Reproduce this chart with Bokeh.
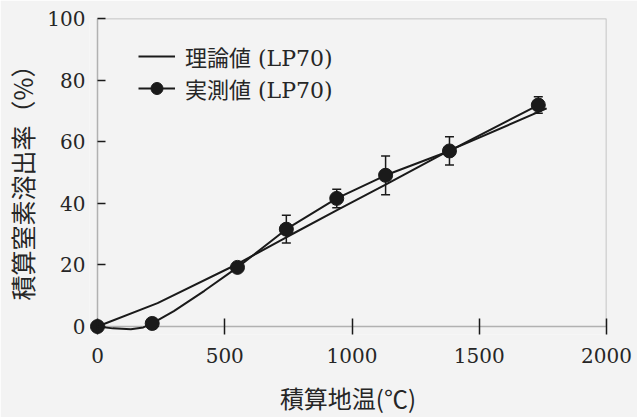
from bokeh.plotting import figure
from bokeh.models import (ColumnDataSource, Whisker, TeeHead, Legend, LegendItem,
                          FixedTicker, Range1d, BoxAnnotation)
from bokeh.embed import file_html
from bokeh.resources import INLINE

# ---------------- data ----------------
x_ticks = [0, 500, 1000, 1500, 2000]
y_ticks = [0, 20, 40, 60, 80, 100]
x_min, x_max = 0, 2000
y_min, y_max = 0, 100

# measured points (積算地温, 積算窒素溶出率) and error half-widths
meas_temp = [0, 215, 550, 742, 940, 1132, 1383, 1732]
meas_n = [0.0, 1.0, 19.2, 31.6, 41.6, 49.1, 57.0, 71.9]
meas_err = [0.0, 0.0, 0.0, 4.5, 3.0, 6.3, 4.6, 2.7]

meas_curve_temp = [0, 60, 131, 180, 215, 300, 420, 550, 742, 940, 1132, 1383, 1732]
meas_curve_n = [0.0, -0.6, -0.9, -0.3, 1.0, 5.0, 11.6, 19.2, 31.6, 41.6, 49.1, 57.0, 71.9]

# theoretical curve
theory_temp = [0, 236, 550, 740, 943, 1130, 1379, 1765]
theory_n = [0.0, 7.6, 20.3, 28.9, 37.9, 46.0, 57.0, 70.8]

legend_labels = ["理論値 (LP70)", "実測値 (LP70)"]
x_label = "積算地温(℃)"
y_label = "積算窒素溶出率（%）"

# ---------------- styling ----------------
INK = "#1a1a1a"
TEXT = "#262626"
BG = "#f3f3f3"
SERIF = "'DejaVu Serif', 'Noto Sans CJK JP'"
CJK = "'Noto Sans CJK JP'"

# axes box in pixels (box = data 0..2000 x 0..100); a small pad lets the
# markers at the origin show whole, as in the reference
BOX_L, BOX_R, BOX_T, BOX_B = 97, 606, 18, 327
PAD = 8
W, H = 637, 417
x_pad = (x_max - x_min) * PAD / (BOX_R - BOX_L)
y_pad = (y_max - y_min) * PAD / (BOX_B - BOX_T)

p = figure(width=W, height=H, output_backend="svg", toolbar_location=None,
           x_range=Range1d(x_min - x_pad, x_max), y_range=Range1d(y_min - y_pad, y_max),
           min_border_left=BOX_L - PAD, min_border_right=W - BOX_R,
           min_border_top=BOX_T, min_border_bottom=H - BOX_B - PAD)
p.background_fill_color = BG
p.border_fill_color = BG
p.outline_line_color = None
p.grid.visible = False

# the axes box itself
p.add_layout(BoxAnnotation(left=x_min, right=x_max, bottom=y_min, top=y_max,
                           fill_alpha=0, line_color=INK, line_width=1.5))

p.xaxis.ticker = FixedTicker(ticks=x_ticks)
p.yaxis.ticker = FixedTicker(ticks=y_ticks)
p.xaxis.axis_label = x_label
p.yaxis.axis_label = y_label

for ax in (p.xaxis[0], p.yaxis[0]):
    ax.axis_line_color = None
    ax.major_tick_line_color = INK
    ax.major_tick_line_width = 1.5
    ax.minor_tick_line_color = None
    ax.major_label_text_font = SERIF
    ax.major_label_text_font_size = "20px"
    ax.major_label_text_color = TEXT
    ax.axis_label_text_font = CJK
    ax.axis_label_text_font_style = "normal"
    ax.axis_label_text_color = TEXT

# x ticks cross the x axis line (8 px each side)
p.xaxis.major_tick_in = 2 * PAD
p.xaxis.major_tick_out = 0
p.xaxis.major_label_standoff = 13
p.xaxis.axis_label_text_font_size = "24px"
p.xaxis.axis_label_standoff = 14

# y ticks only inside
p.yaxis.major_tick_in = 2 * PAD
p.yaxis.major_tick_out = -PAD
p.yaxis.major_label_standoff = 4
p.yaxis.axis_label_text_font_size = "25px"
p.yaxis.axis_label_standoff = 4

# ---------------- marks ----------------
r_theory = p.line(theory_temp, theory_n, line_color=INK, line_width=2)
r_mcurve = p.line(meas_curve_temp, meas_curve_n, line_color=INK, line_width=2)

err_x = [t for t, e in zip(meas_temp, meas_err) if e > 0]
err_up = [n + e for n, e in zip(meas_n, meas_err) if e > 0]
err_lo = [n - e for n, e in zip(meas_n, meas_err) if e > 0]
err_src = ColumnDataSource(dict(x=err_x, upper=err_up, lower=err_lo))
whisk = Whisker(source=err_src, base="x", upper="upper", lower="lower",
                dimension="height", line_color=INK, line_width=1.5,
                upper_head=TeeHead(size=9, line_color=INK, line_width=1.5),
                lower_head=TeeHead(size=9, line_color=INK, line_width=1.5))
p.add_layout(whisk)

r_pts = p.scatter(meas_temp, meas_n, marker="circle", size=14,
                  fill_color=INK, line_color=INK)

legend = Legend(items=[LegendItem(label=legend_labels[0], renderers=[r_theory]),
                       LegendItem(label=legend_labels[1], renderers=[r_mcurve, r_pts])],
                location=(41 + PAD, 222 + PAD), orientation="vertical", padding=0,
                spacing=0, margin=0, glyph_width=37, glyph_height=30, label_height=30,
                label_standoff=10, background_fill_alpha=0, border_line_color=None,
                label_text_font=SERIF, label_text_font_size="22px",
                label_text_color=TEXT)
p.add_layout(legend)

open("out.html", "w").write(file_html(p, INLINE))
